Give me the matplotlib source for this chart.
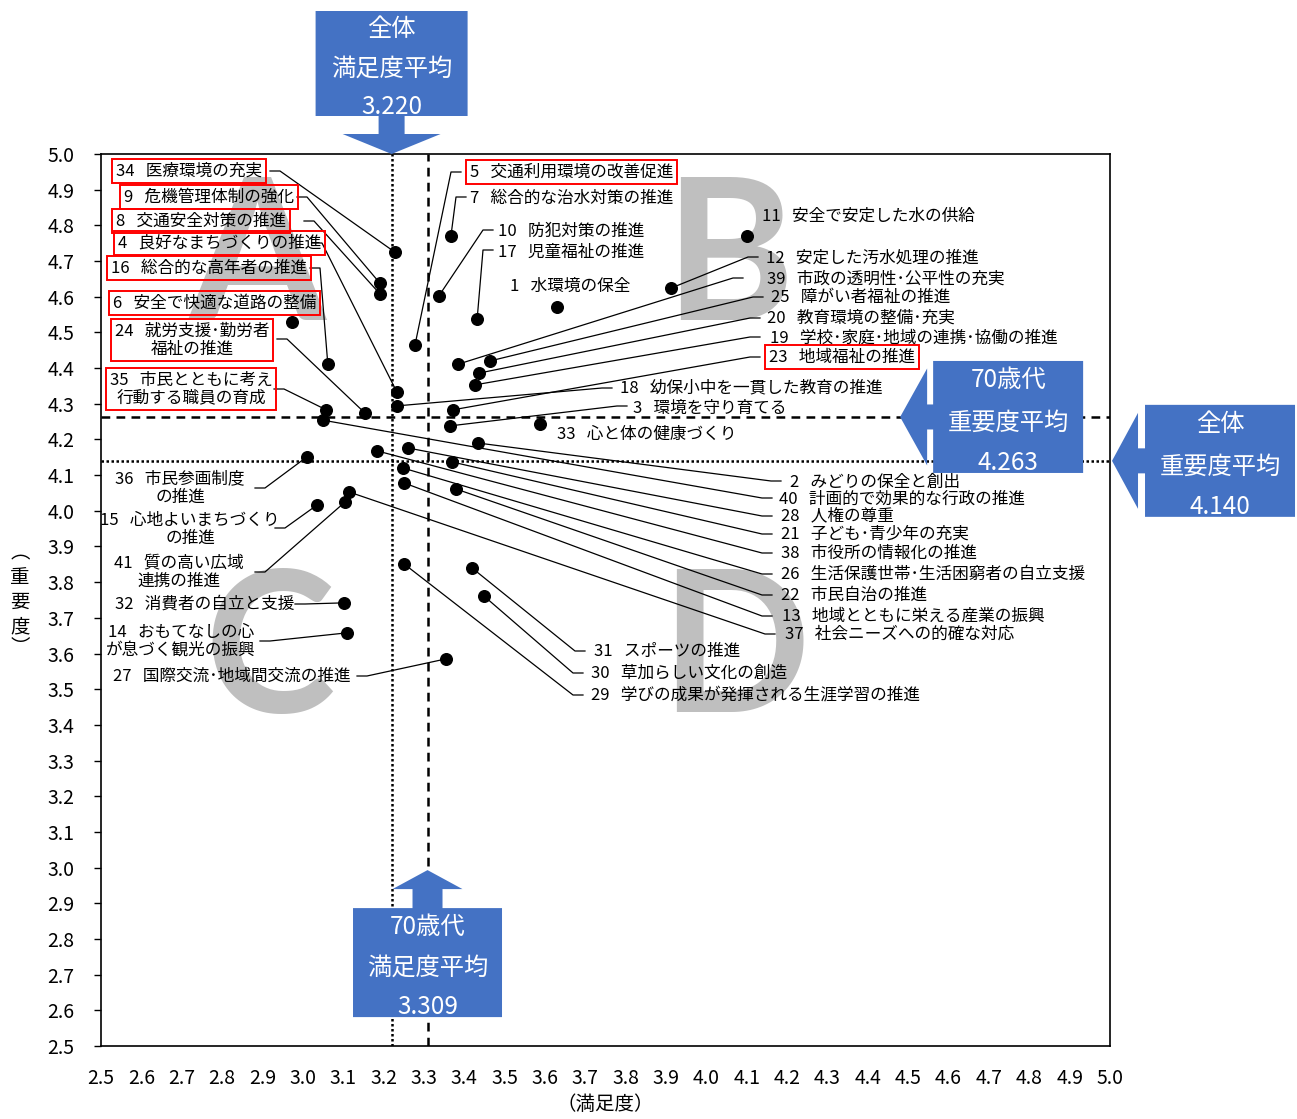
import numpy as np
import matplotlib
matplotlib.use('Agg')
import matplotlib.pyplot as plt
from matplotlib.patches import Polygon

plt.rcParams['font.family'] = ['Noto Sans CJK JP', 'DejaVu Sans']

W, H = 1297, 1119

# ---- data ----
item_no = list(range(1, 42))
item_name = [
    '水環境の保全', 'みどりの保全と創出', '環境を守り育てる', '良好なまちづくりの推進',
    '交通利用環境の改善促進', '安全で快適な道路の整備', '総合的な治水対策の推進',
    '交通安全対策の推進', '危機管理体制の強化', '防犯対策の推進', '安全で安定した水の供給',
    '安定した汚水処理の推進', '地域とともに栄える産業の振興', 'おもてなしの心が息づく観光の振興',
    '心地よいまちづくりの推進', '総合的な高年者の推進', '児童福祉の推進',
    '幼保小中を一貫した教育の推進', '学校･家庭･地域の連携･協働の推進', '教育環境の整備･充実',
    '子ども･青少年の充実', '市民自治の推進', '地域福祉の推進', '就労支援･勤労者福祉の推進',
    '障がい者福祉の推進', '生活保護世帯･生活困窮者の自立支援', '国際交流･地域間交流の推進',
    '人権の尊重', '学びの成果が発揮される生涯学習の推進', '草加らしい文化の創造',
    'スポーツの推進', '消費者の自立と支援', '心と体の健康づくり', '医療環境の充実',
    '市民とともに考え行動する職員の育成', '市民参画制度の推進', '社会ニーズへの的確な対応',
    '市役所の情報化の推進', '市政の透明性･公平性の充実', '計画的で効果的な行政の推進',
    '質の高い広域連携の推進',
]
satisfaction = [3.630, 3.434, 3.365, 3.233, 3.278, 2.973, 3.367, 3.191, 3.191, 3.337,
                4.101, 3.912, 3.251, 3.110, 3.035, 3.062, 3.432, 3.233, 3.427, 3.437,
                3.370, 3.380, 3.372, 3.154, 3.464, 3.248, 3.355, 3.261, 3.251, 3.449,
                3.419, 3.102, 3.588, 3.228, 3.058, 3.010, 3.114, 3.184, 3.385, 3.050,
                3.105]
importance = [4.571, 4.190, 4.238, 4.333, 4.465, 4.529, 4.770, 4.608, 4.638, 4.602,
              4.770, 4.624, 4.078, 3.658, 4.016, 4.411, 4.538, 4.294, 4.353, 4.386,
              4.137, 4.061, 4.283, 4.274, 4.420, 4.120, 3.585, 4.176, 3.851, 3.761,
              3.840, 3.742, 4.243, 4.725, 4.283, 4.151, 4.053, 4.168, 4.411, 4.254,
              4.025]

all_sat_mean = 3.220
all_imp_mean = 4.140
age_sat_mean = 3.309
age_imp_mean = 4.263

ticks = np.round(np.arange(2.5, 5.01, 0.1), 1)

# labels that are framed in red
boxed = {34, 9, 8, 4, 16, 6, 24, 35, 5, 23}

# labels broken over two lines
wrapped = {
    24: '24   就労支援･勤労者\n福祉の推進',
    35: '35   市民とともに考え\n行動する職員の育成',
    36: '36   市民参画制度\nの推進',
    15: '15   心地よいまちづくり\nの推進',
    41: '41   質の高い広域\n連携の推進',
    14: '14   おもてなしの心\nが息づく観光の振興',
}


# label layout in picture pixels: text x, text y, align, leader start x, y
def px(xp, yp):
    return 2.5 + (xp - 101) / 403.6, 5.0 - (yp - 154) / 356.8


layout = {
    34: (116, 171, 'left', 270, 171),
    9: (124, 197, 'left', 297, 197),
    8: (116, 221, 'left', 304, 221),
    4: (118, 243, 'left', 312, 243),
    16: (111, 268, 'left', 310, 268),
    6: (113, 303, 'left', None, None),
    24: (192, 340, 'center', 277, 339),
    35: (191, 389, 'center', 274, 389),
    5: (470, 172, 'left', 461, 172),
    7: (470, 198, 'left', 466, 197),
    10: (498, 231, 'left', 493, 230),
    17: (498, 252, 'left', 493, 250),
    1: (510, 286, 'left', None, None),
    11: (762, 216, 'left', None, None),
    12: (766, 258, 'left', 758, 257),
    39: (767, 279, 'left', 743, 278),
    25: (771, 297, 'left', 763, 297),
    20: (767, 318, 'left', 760, 318),
    19: (770, 338, 'left', 760, 337),
    23: (769, 357, 'left', 760, 357),
    18: (620, 388, 'left', 612, 388),
    3: (633, 408, 'left', 627, 406),
    33: (557, 434, 'left', None, None),
    2: (790, 482, 'left', 781, 481),
    40: (779, 499, 'left', 772, 498),
    28: (781, 516, 'left', 772, 516),
    21: (781, 534, 'left', 772, 534),
    38: (781, 553, 'left', 772, 553),
    26: (781, 574, 'left', 772, 574),
    22: (781, 595, 'left', 772, 595),
    13: (782, 616, 'left', 772, 616),
    37: (785, 634, 'left', 775, 634),
    31: (594, 651, 'left', 585, 651),
    30: (591, 673, 'left', 583, 673),
    29: (591, 695, 'left', 583, 695),
    36: (180, 488, 'center', 255, 488),
    15: (190, 529, 'center', 275, 528),
    41: (179, 572, 'center', 255, 572),
    32: (115, 604, 'left', 295, 604),
    14: (181, 641, 'center', 260, 641),
    27: (113, 676, 'left', 357, 676),
}

fig = plt.figure(figsize=(W / 100, H / 100), dpi=100)
ax = fig.add_axes([101 / W, 1 - 1046 / H, 1009 / W, 892 / H])
ax.set_xlim(2.5, 5.0)
ax.set_ylim(2.5, 5.0)
ax.set_xticks(ticks)
ax.set_yticks(ticks)
ax.set_xticklabels([f'{t:.1f}' for t in ticks])
ax.set_yticklabels([f'{t:.1f}' for t in ticks])
ax.tick_params(axis='y', direction='out', length=5, width=1, pad=14, labelsize=14)
ax.tick_params(axis='x', length=0, pad=16, labelsize=14)
for s in ax.spines.values():
    s.set_linewidth(1.2)

# quadrant letters
for letter, (lx, ly) in zip('ABCD', [(257, 320), (729, 320), (270, 712), (735, 712)]):
    x, y = px(lx, ly)
    ax.text(x, y, letter, fontsize=142, color='#bfbfbf', fontweight='bold',
            family='Lato', ha='center', va='baseline', zorder=0)

# average lines
ax.axvline(all_sat_mean, color='black', lw=1.8, ls=(0, (1, 1)), zorder=1)
ax.axhline(all_imp_mean, color='black', lw=1.8, ls=(0, (1, 1)), zorder=1)
ax.axvline(age_sat_mean, color='black', lw=1.8, ls=(0, (3.5, 2.5)), zorder=1)
ax.axhline(age_imp_mean, color='black', lw=1.8, ls=(0, (3.5, 2.5)), zorder=1)

ax.scatter(satisfaction, importance, s=70, color='black', zorder=5)

for no, name, sx, sy in zip(item_no, item_name, satisfaction, importance):
    tx, ty, ha, axp, ayp = layout[no]
    label = wrapped.get(no, f'{no}   {name}')
    x, y = px(tx, ty)
    bbox = None
    if no in boxed:
        bbox = dict(boxstyle='square,pad=0.22', fc='none', ec='#ff0000', lw=1.4)
    ax.text(x, y, label, fontsize=12, ha=ha, va='center', multialignment='center',
            linespacing=1.05, bbox=bbox, zorder=4)
    if axp is not None:
        x0, y0 = px(axp, ayp)
        step = 10 if sx > x0 else -10
        x1, _ = px(axp + step, ayp)
        ax.plot([x0, x1, sx], [y0, y0, sy], color='black', lw=0.9, zorder=3)

# axis titles
fig.text(605 / W, 1 - 1104 / H, '（満足度）', fontsize=14, ha='center', va='center')
for ch, yy in [('︵', 553, ), ('重', 577), ('要', 602), ('度', 627), ('︶', 648)]:
    fig.text(20 / W, 1 - yy / H, ch, fontsize=14, ha='center', va='center')

# callout arrows, drawn in pixel space
ov = fig.add_axes([0, 0, 1, 1], zorder=10)
ov.set_xlim(0, W)
ov.set_ylim(H, 0)
ov.axis('off')


def to_px(x, y):
    d = ax.transData.transform((x, y))
    return d[0], H - d[1]


def callout(tip, direction, box_len, box_wid, shaft_len, shaft_wid, head_len, head_wid, lines):
    tx, ty = tip
    a = head_len + shaft_len
    local = [(0, 0), (head_len, -head_wid / 2), (head_len, -shaft_wid / 2),
             (a, -shaft_wid / 2), (a, -box_wid / 2), (a + box_len, -box_wid / 2),
             (a + box_len, box_wid / 2), (a, box_wid / 2), (a, shaft_wid / 2),
             (head_len, shaft_wid / 2), (head_len, head_wid / 2)]
    if direction == 'down':
        pts = [(tx + c, ty - l) for l, c in local]
        bx, btop, bh = tx, ty - a - box_len, box_len
    elif direction == 'up':
        pts = [(tx + c, ty + l) for l, c in local]
        bx, btop, bh = tx, ty + a, box_len
    else:
        pts = [(tx + l, ty + c) for l, c in local]
        bx, btop, bh = tx + a + box_len / 2, ty - box_wid / 2, box_wid
    ov.add_patch(Polygon(pts, closed=True, fc='#4472c4', ec='none'))
    for txt, f in zip(lines, [0.17, 0.55, 0.91]):
        ov.text(bx, btop + bh * f, txt, color='white', fontsize=17.5,
                ha='center', va='center')


callout(to_px(all_sat_mean, 5.0), 'down', 105, 152, 18, 26, 20, 98,
        ['全体', '満足度平均', f'{all_sat_mean:.3f}'])
callout(to_px(age_sat_mean, 2.993), 'up', 109, 149, 19, 30, 19, 70,
        ['70歳代', '満足度平均', f'{age_sat_mean:.3f}'])
callout(to_px(4.48, age_imp_mean), 'left', 150, 112, 6, 25, 27, 97,
        ['70歳代', '重要度平均', f'{age_imp_mean:.3f}'])
callout(to_px(5.005, all_imp_mean), 'left', 150, 112, 7, 25, 26, 96,
        ['全体', '重要度平均', f'{all_imp_mean:.3f}'])

fig.savefig('out.png', dpi=100)
